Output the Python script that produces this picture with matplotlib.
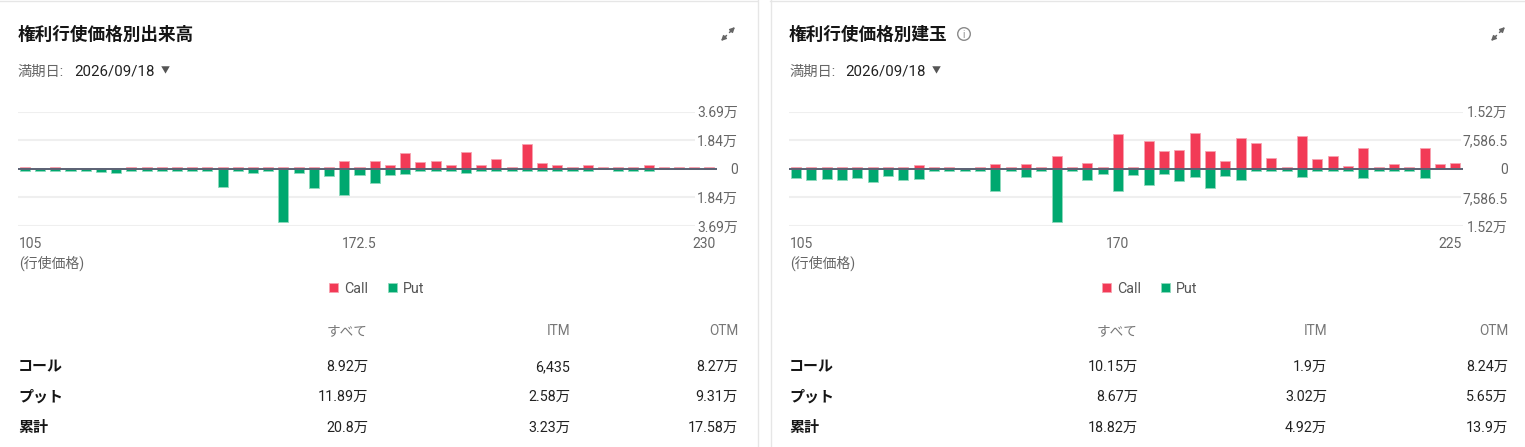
import matplotlib
matplotlib.use("Agg")
import matplotlib.pyplot as plt
import matplotlib.transforms as mtransforms
from matplotlib.patches import Circle

plt.rcParams['font.family'] = ['Roboto', 'Noto Sans CJK JP', 'DejaVu Sans']

# ---- data ----
strikes_vol = [105, 110, 115, 120, 125, 130, 132.5, 135, 137.5, 140, 142.5, 145, 147.5, 150,
               152.5, 155, 157.5, 160, 162.5, 165, 167.5, 170, 172.5, 175, 177.5, 180, 182.5,
               185, 187.5, 190, 192.5, 195, 197.5, 200, 202.5, 205, 207.5, 210, 212.5, 215,
               217.5, 220, 222.5, 225, 227.5, 230]
call_vol = [1500, 0, 1500, 0, 0, 0, 0, 1500, 1500, 1500, 1500, 1500, 1500, 1500, 1500, 1500,
            1500, 1500, 1500, 1500, 1500, 4900, 1500, 5000, 2200, 10200, 4300, 5000, 2200, 11100,
            2800, 6300, 1500, 15800, 3500, 2200, 1500, 2200, 1500, 1500, 1500, 2800, 1500, 1500,
            1500, 1500]
put_vol = [1700, 1700, 1700, 1700, 1700, 2100, 2400, 1700, 1700, 1700, 1700, 1700, 1700, 11500,
           1700, 3000, 1700, 34200, 2400, 12200, 4300, 17200, 4200, 9400, 3900, 3300, 1700, 1700,
           1700, 2600, 1700, 1700, 1700, 1700, 1700, 1700, 1700, 1700, 0, 1700, 1700, 1700, 0, 0,
           0, 0]

strikes_oi = [105, 110, 115, 120, 125, 130, 132.5, 135, 137.5, 140, 142.5, 145, 147.5, 150,
              152.5, 155, 157.5, 160, 162.5, 165, 167.5, 170, 172.5, 175, 177.5, 180, 182.5,
              185, 187.5, 190, 192.5, 195, 197.5, 200, 202.5, 205, 207.5, 210, 212.5, 215,
              217.5, 220, 222.5, 225]
call_oi = [620, 620, 620, 620, 620, 620, 620, 620, 890, 620, 620, 0, 620, 1160, 620, 1160, 620,
           3300, 620, 1430, 620, 9200, 620, 7350, 4640, 4910, 9460, 4730, 2140, 8120, 6780, 2950,
           620, 8840, 2590, 3390, 800, 5620, 620, 1160, 620, 5440, 1300, 1500]
put_oi = [2400, 2860, 2770, 3030, 2500, 3570, 1960, 3030, 2770, 620, 620, 620, 620, 5980, 620,
          2230, 620, 14010, 620, 3080, 1340, 5760, 1700, 4370, 1430, 3300, 2230, 5180, 1780, 3030,
          620, 620, 620, 2230, 620, 620, 620, 2410, 620, 620, 620, 2500, 0, 0]

yticks_vol = [-36900, -18450, 0, 18450, 36900]
ylabels_vol = ["3.69万", "1.84万", "0", "1.84万", "3.69万"]
yticks_oi = [-15173, -7586.5, 0, 7586.5, 15173]
ylabels_oi = ["1.52万", "7,586.5", "0", "7,586.5", "1.52万"]

table_cols = ["すべて", "ITM", "OTM"]
table_rows = ["コール", "プット", "累計"]
table_vol = [["8.92万", "6,435", "8.27万"],
             ["11.89万", "2.58万", "9.31万"],
             ["20.8万", "3.23万", "17.58万"]]
table_oi = [["10.15万", "1.9万", "8.24万"],
            ["8.67万", "3.02万", "5.65万"],
            ["18.82万", "4.92万", "13.9万"]]

CALL = "#f23a56"
PUT = "#00a86f"
W, H = 1525, 447

fig = plt.figure(figsize=(W / 100, H / 100), dpi=100)
bg = fig.add_axes([0, 0, 1, 1])
bg.set_xlim(0, W)
bg.set_ylim(H, 0)
bg.axis("off")

# card borders
bg.plot([757.5, 757.5], [0, H], color="#e6e6e6", lw=1)
bg.plot([770.5, 770.5], [0, H], color="#e6e6e6", lw=1)
bg.plot([0, 757], [1, 1], color="#e6e6e6", lw=1)
bg.plot([770, W], [1, 1], color="#e6e6e6", lw=1)


def panel(x0, x_axis_end, lab_right, title, strikes, calls, puts, yt, yl, mid_idx,
          cols, rows, values, col_x, legend_cx, info=False):
    # header
    bg.text(x0 + 18, 35, title, fontsize=12.7, fontweight="bold", color="#151515",
            va="center", ha="left")
    if info:
        bg.add_patch(Circle((x0 + 193, 34), 6.3, fill=False, ec="#8a8a8a", lw=1))
        bg.text(x0 + 193, 34.5, "i", fontsize=7, color="#8a8a8a", ha="center", va="center")
    # expand icon
    cx = lab_right - 10
    bg.annotate("", xy=(cx + 7, 27), xytext=(cx + 1.5, 32.5),
                arrowprops=dict(arrowstyle="-|>", color="#666", lw=1.1, mutation_scale=7,
                                shrinkA=0, shrinkB=0))
    bg.annotate("", xy=(cx - 7, 41), xytext=(cx - 1.5, 35.5),
                arrowprops=dict(arrowstyle="-|>", color="#666", lw=1.1, mutation_scale=7,
                                shrinkA=0, shrinkB=0))
    bg.text(x0 + 18, 72, "満期日:", fontsize=10.3, color="#666", va="center", ha="left")
    bg.text(x0 + 74, 72, "2026/09/18", fontsize=10.8, color="#222", va="center", ha="left")
    bg.text(x0 + 165, 71, "▼", fontsize=6.5, color="#555", va="center", ha="center")

    # bar chart
    left = x0 + 18
    ax = fig.add_axes([left / W, 1 - 226 / H, (x_axis_end - left) / W, (226 - 111.7) / H])
    xs = list(range(len(strikes)))
    bc = ax.bar(xs, calls, width=0.66, color=CALL, edgecolor="#f7a3b0", linewidth=0.6, label="Call")
    bp = ax.bar(xs, [-v for v in puts], width=0.66, color=PUT, edgecolor="#8fd9bd", linewidth=0.6,
                label="Put")
    ax.axhline(0, color="#5a6173", lw=1.4, zorder=3)
    ax.set_xlim(-0.45, len(strikes) - 0.5)
    ax.set_ylim(yt[0], yt[-1])
    ax.set_axisbelow(True)
    ax.yaxis.tick_right()
    pad_pt = (lab_right - x_axis_end) * 72 / 100
    ax.set_yticks(yt, yl)
    ax.tick_params(axis="y", length=0, pad=pad_pt, labelsize=10, labelcolor="#666")
    for t in ax.get_yticklabels():
        t.set_ha("right")
        t.set_bbox(dict(facecolor="white", edgecolor="none", pad=1.5))
    ax.grid(axis="y", color="#efefef", lw=1.5)
    last = len(strikes) - 1
    ax.set_xticks([0, mid_idx, last], [f"{strikes[0]:g}", f"{strikes[mid_idx]:g}",
                                        f"{strikes[last]:g}"])
    ax.tick_params(axis="x", length=0, pad=8, labelsize=10, labelcolor="#666")
    xl = ax.get_xticklabels()
    xl[0].set_ha("left")
    xl[0].set_transform(xl[0].get_transform() + mtransforms.ScaledTranslation(-6 / 100, 0, fig.dpi_scale_trans))
    xl[2].set_ha("right")
    xl[2].set_transform(xl[2].get_transform() + mtransforms.ScaledTranslation(6 / 100, 0, fig.dpi_scale_trans))
    for s in ax.spines.values():
        s.set_visible(False)
    bg.text(x0 + 19, 263, "(行使価格)", fontsize=10, color="#666", va="center", ha="left")

    fig.legend(handles=[bc, bp], labels=["Call", "Put"], loc="center", ncol=2,
               bbox_to_anchor=(legend_cx / W, 1 - 289 / H), bbox_transform=fig.transFigure,
               frameon=False, fontsize=10.3, handlelength=0.6, handleheight=0.6,
               handletextpad=0.45, columnspacing=1.4, labelcolor="#555")

    # table
    for c, name in enumerate(cols):
        bg.text(col_x[c], 331, name, fontsize=9.8, color="#777", ha="right", va="center")
    for r, name in enumerate(rows):
        y = [367, 397, 428][r]
        bg.text(x0 + 18, y, name, fontsize=10.8, fontweight="bold", color="#151515",
                ha="left", va="center")
        for c in range(3):
            bg.text(col_x[c], y, values[r][c], fontsize=10.3, color="#222", ha="right", va="center")


panel(0, 717, 738, "権利行使価格別出来高", strikes_vol, call_vol, put_vol, yticks_vol, ylabels_vol,
      22, table_cols, table_rows, table_vol, [368, 570, 738], 377)
panel(771, 1463, 1508, "権利行使価格別建玉", strikes_oi, call_oi, put_oi, yticks_oi, ylabels_oi,
      21, table_cols, table_rows, table_oi, [1138, 1327, 1508], 1150, info=True)

fig.savefig("out.png", dpi=100, facecolor="white")
